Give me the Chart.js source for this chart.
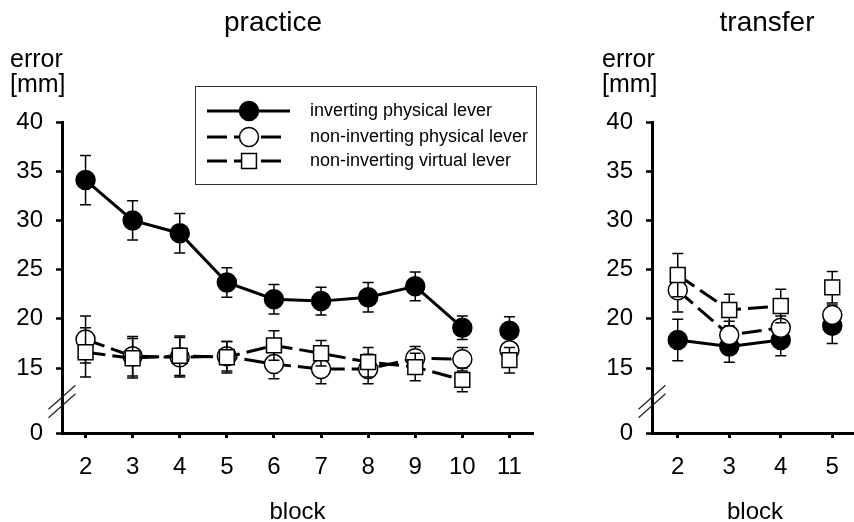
<!DOCTYPE html>
<html><head><meta charset="utf-8">
<script src="https://cdn.jsdelivr.net/npm/chart.js@4/dist/chart.umd.min.js"></script>
<style>
html,body{margin:0;padding:0;background:#fff;overflow:hidden;width:854px;height:522px;}
#cL{position:absolute;left:0;top:0;}
#cR{position:absolute;left:560px;top:0;}
</style></head><body>
<canvas id="cL" width="546" height="522"></canvas>
<canvas id="cR" width="310" height="522"></canvas>
<script>
// ---------- data ----------
const seriesLabels = ['inverting physical lever', 'non-inverting physical lever', 'non-inverting virtual lever'];

const practiceBlocks = [2, 3, 4, 5, 6, 7, 8, 9, 10, 11];
const practiceInvPhys      = [34.1, 30.0, 28.7, 23.7, 22.0, 21.8, 22.2, 23.3, 19.1, 18.8];
const practiceInvPhysErr   = [2.5, 2.0, 2.0, 1.5, 1.5, 1.4, 1.5, 1.45, 1.2, 1.4];
const practiceNonInvPhys   = [17.9, 16.2, 16.1, 16.2, 15.4, 14.9, 14.9, 16.0, 15.9, 16.8];
const practiceNonInvPhysErr= [2.4, 2.0, 2.0, 1.5, 1.5, 1.5, 1.5, 1.2, 1.2, 1.3];
const practiceNonInvVirt   = [16.6, 16.0, 16.25, 16.1, 17.3, 16.5, 15.6, 15.1, 13.8, 15.8];
const practiceNonInvVirtErr= [2.5, 2.0, 2.0, 1.6, 1.5, 1.3, 1.5, 1.4, 1.2, 1.3];
const practiceBreakBefore = 11;   // block not joined to the previous one

const transferBlocks = [2, 3, 4, 5];
const transferInvPhys      = [17.85, 17.2, 17.85, 19.3];
const transferInvPhysErr   = [2.1, 1.6, 1.6, 1.8];
const transferNonInvPhys   = [22.9, 18.35, 19.1, 20.4];
const transferNonInvPhysErr= [2.2, 1.4, 1.2, 1.0];
const transferNonInvVirt   = [24.45, 20.9, 21.3, 23.2];
const transferNonInvVirtErr= [2.2, 1.6, 1.7, 1.6];
const transferBreakBefore = 5;

const yTickValues = [15, 20, 25, 30, 35, 40];
const yBreakLabel = '0';
const yAxisMin = 8.4;   // axis position where the broken "0" is drawn

Chart.defaults.font.family = '"Liberation Sans", Arial, sans-serif';
Chart.defaults.color = '#000';

// ---------- plugins ----------
const errorBarPlugin = {
  id: 'errorBars',
  beforeDatasetDraw(chart, args) {
    const ds = chart.data.datasets[args.index];
    if (!ds.errors) return;
    const ys = chart.scales.y, ctx = chart.ctx;
    ctx.save();
    ctx.strokeStyle = '#000';
    ctx.lineWidth = 1.5;
    args.meta.data.forEach((pt, i) => {
      const v = ds.data[i].y, e = ds.errors[i];
      const x = pt.x, t = ys.getPixelForValue(v + e), b = ys.getPixelForValue(v - e);
      ctx.beginPath();
      ctx.moveTo(x, t); ctx.lineTo(x, b);
      ctx.moveTo(x - 5.5, t); ctx.lineTo(x + 5.5, t);
      ctx.moveTo(x - 5.5, b); ctx.lineTo(x + 5.5, b);
      ctx.stroke();
    });
    ctx.restore();
  }
};

const axisBreakPlugin = {
  id: 'axisBreak',
  afterDraw(chart) {
    const ctx = chart.ctx, ys = chart.scales.y;
    const ax = chart.chartArea.left;
    const c = (ys.getPixelForValue(15) + ys.bottom) / 2 + 1;
    ctx.save();
    ctx.strokeStyle = '#222';
    ctx.lineWidth = 1.2;
    [-4.25, 4.25].forEach(off => {
      ctx.beginPath();
      ctx.moveTo(ax - 13.5, c + off + 12);
      ctx.lineTo(ax + 13.5, c + off - 12);
      ctx.stroke();
    });
    ctx.restore();
  }
};

function headerPlugin(title, titleX, unitX) {
  return {
    id: 'header',
    afterDraw(chart) {
      const ctx = chart.ctx;
      ctx.save();
      ctx.fillStyle = '#000';
      ctx.textBaseline = 'alphabetic';
      ctx.font = '28px "Liberation Sans", Arial, sans-serif';
      ctx.textAlign = 'center';
      ctx.fillText(title, titleX, 31);
      ctx.font = '25px "Liberation Sans", Arial, sans-serif';
      ctx.textAlign = 'left';
      ctx.fillText('error', unitX, 67);
      ctx.fillText('[mm]', unitX, 92);
      ctx.restore();
    }
  };
}

const legendPlugin = {
  id: 'boxLegend',
  afterDraw(chart) {
    const ctx = chart.ctx;
    const bx = 195.5, by = 86.5, bw = 341, bh = 98;
    const rows = [111, 137, 161];
    const styles = chart.data.datasets;
    ctx.save();
    ctx.strokeStyle = '#333';
    ctx.lineWidth = 1;
    ctx.strokeRect(bx, by, bw, bh);
    styles.forEach((ds, i) => {
      const y = rows[i];
      ctx.strokeStyle = '#000';
      ctx.lineWidth = 3;
      ctx.setLineDash(ds.borderDash || []);
      ctx.beginPath();
      ctx.moveTo(207, y); ctx.lineTo(i === 0 ? 290 : 281, y);
      ctx.stroke();
      ctx.setLineDash([]);
      ctx.fillStyle = ds.pointBackgroundColor;
      ctx.strokeStyle = '#000';
      ctx.lineWidth = ds.pointBorderWidth;
      Chart.helpers.drawPoint(ctx, {pointStyle: ds.pointStyle, radius: ds.pointRadius, borderWidth: ds.pointBorderWidth}, 249, y);
      ctx.fillStyle = '#000';
      ctx.font = '18px "Liberation Sans", Arial, sans-serif';
      ctx.textAlign = 'left';
      ctx.textBaseline = 'middle';
      ctx.fillText(ds.label, 310, y);
    });
    ctx.restore();
  }
};

// ---------- chart builder ----------
function makeDatasets(blocks, vals, errs, breakBefore) {
  const seg = { borderColor: ctx => ctx.p1.parsed.x === breakBefore ? 'rgba(0,0,0,0)' : undefined };
  const styles = [
    { pointStyle: 'circle', pointRadius: 9.5, pointBackgroundColor: '#000', borderDash: [], order: 2 },
    { pointStyle: 'circle', pointRadius: 9.5, pointBackgroundColor: '#fff', borderDash: [20, 7], order: 1 },
    { pointStyle: 'rect', pointRadius: 10.5, pointBackgroundColor: '#fff', borderDash: [20, 7], order: 0 }
  ];
  return vals.map((arr, k) => ({
    label: seriesLabels[k],
    data: blocks.map((b, i) => ({ x: b, y: arr[i] })),
    errors: errs[k],
    borderColor: '#000',
    borderWidth: 3,
    borderDash: styles[k].borderDash,
    pointStyle: styles[k].pointStyle,
    pointRadius: styles[k].pointRadius,
    pointBackgroundColor: styles[k].pointBackgroundColor,
    pointBorderColor: '#000',
    pointBorderWidth: 1.5,
    tension: 0,
    fill: false,
    order: styles[k].order,
    segment: seg
  }));
}

function makeChart(id, blocks, vals, errs, breakBefore, xMin, xMax, pad, yWidth, extraPlugins) {
  return new Chart(document.getElementById(id), {
    type: 'line',
    data: { datasets: makeDatasets(blocks, vals, errs, breakBefore) },
    options: {
      responsive: false,
      animation: false,
      events: [],
      layout: { padding: pad },
      plugins: { legend: { display: false }, tooltip: { enabled: false }, title: { display: false } },
      scales: {
        x: {
          type: 'linear', min: xMin, max: xMax,
          afterBuildTicks: s => { s.ticks = blocks.map(v => ({ value: v })); },
          ticks: { font: { size: 24 }, color: '#000', padding: 15, autoSkip: false, maxRotation: 0,
                   callback: v => String(v) },
          grid: { drawOnChartArea: false, drawTicks: true, tickLength: 5, tickWidth: 3, tickColor: '#000' },
          border: { display: true, width: 3, color: '#000' },
          title: { display: true, text: 'block', font: { size: 24 }, color: '#000', padding: { top: 0, bottom: -5 } },
          afterFit: s => { s.height = 89; }
        },
        y: {
          type: 'linear', min: yAxisMin, max: 40,
          afterBuildTicks: s => { s.ticks = [yAxisMin, ...yTickValues].map(v => ({ value: v })); },
          ticks: { font: { size: 24 }, color: '#000', padding: 13, autoSkip: false,
                   callback: v => v === yAxisMin ? yBreakLabel : String(v) },
          grid: { drawOnChartArea: false, drawTicks: true, tickLength: 6, tickWidth: 2.5, tickColor: '#000' },
          border: { display: true, width: 3, color: '#000' },
          afterFit: s => { s.width = yWidth; }
        }
      }
    },
    plugins: [errorBarPlugin, axisBreakPlugin, ...extraPlugins]
  });
}

makeChart('cL', practiceBlocks,
  [practiceInvPhys, practiceNonInvPhys, practiceNonInvVirt],
  [practiceInvPhysErr, practiceNonInvPhysErr, practiceNonInvVirtErr],
  practiceBreakBefore, 1.5, 11.5,
  { left: 10, top: 122, right: 13, bottom: 0 }, 52,
  [headerPlugin('practice', 273, 10), legendPlugin]);

makeChart('cR', transferBlocks,
  [transferInvPhys, transferNonInvPhys, transferNonInvVirt],
  [transferInvPhysErr, transferNonInvPhysErr, transferNonInvVirtErr],
  transferBreakBefore, 1.5, 5.5,
  { left: 42, top: 122, right: 8, bottom: 0 }, 50,
  [headerPlugin('transfer', 207, 42)]);
</script>
</body></html>
